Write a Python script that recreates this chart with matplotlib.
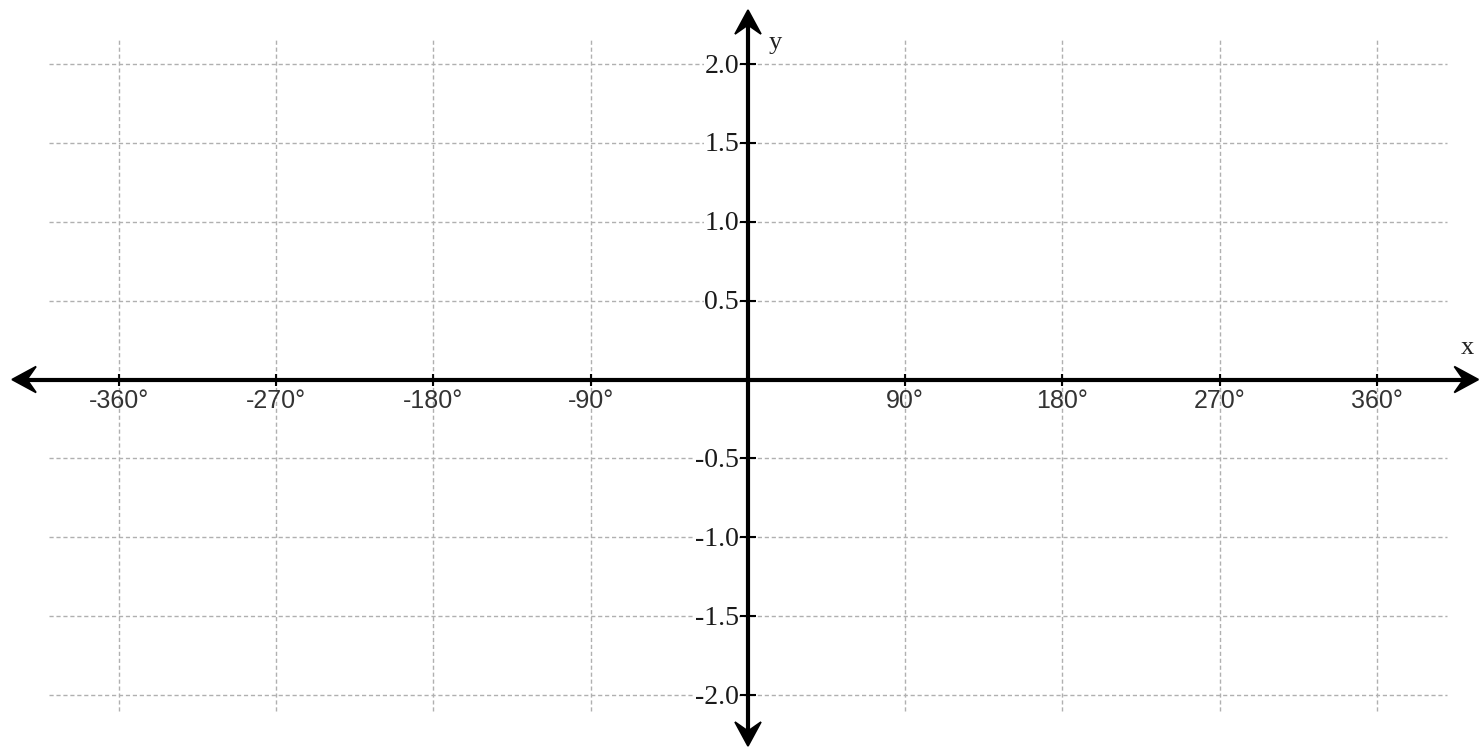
import matplotlib
matplotlib.use("Agg")
import matplotlib.pyplot as plt
from matplotlib.patches import Polygon
from matplotlib.transforms import IdentityTransform
import numpy as np

# Data (tick values and labels)
x_ticks = [-360, -270, -180, -90, 90, 180, 270, 360]
x_labels = ["-360°", "-270°", "-180°", "-90°", "90°", "180°", "270°", "360°"]
y_ticks = [2.0, 1.5, 1.0, 0.5, -0.5, -1.0, -1.5, -2.0]
y_labels = ["2.0", "1.5", "1.0", "0.5", "-0.5", "-1.0", "-1.5", "-2.0"]
grid_x = [-360, -270, -180, -90, 0, 90, 180, 270, 360]
grid_y = [2.0, 1.5, 1.0, 0.5, 0.0, -0.5, -1.0, -1.5, -2.0]

fig = plt.figure(figsize=(14.8, 7.49), dpi=100)
ax = fig.add_axes([0, 0, 1, 1])
ax.set_xlim(-428.1, 418.95)
ax.set_ylim(-2.342, 2.4057)
ax.axis("off")

# 1 px in data units
px_x = 90 / 157.25
px_y = 1 / 157.75

grid_kw = dict(color="#b0b0b0", linewidth=1.0, linestyles=(0, (3, 2)), zorder=1)
ax.vlines(grid_x, -2.1, 2.15, **grid_kw)
ax.hlines(grid_y, -400, 400, **grid_kw)

# Axis lines
x_end_l, x_end_r = -421.2, 418.0
y_end_b, y_end_t = -2.323, 2.342
ax.plot([x_end_l + 15 * px_x, x_end_r - 15 * px_x], [0, 0], color="black", lw=3, zorder=3,
        solid_capstyle="butt")
ax.plot([0, 0], [y_end_b + 15 * px_y, y_end_t - 15 * px_y], color="black", lw=3, zorder=3,
        solid_capstyle="butt")

# stealth arrowheads drawn in display space
fig.canvas.draw()
L, W, N = 24.0, 13.0, 0.62


def head(tip_data, direction):
    tx, ty = ax.transData.transform(tip_data)
    d = np.array(direction, dtype=float)
    p = np.array([-d[1], d[0]])
    tip = np.array([tx, ty])
    pts = [tip,
           tip - L * d + W * p,
           tip - N * L * d,
           tip - L * d - W * p]
    ax.add_patch(Polygon(pts, closed=True, transform=IdentityTransform(),
                         facecolor="black", edgecolor="black", lw=1.2, zorder=4,
                         joinstyle="miter"))


head((x_end_r, 0), (1, 0))
head((x_end_l, 0), (-1, 0))
head((0, y_end_t), (0, 1))
head((0, y_end_b), (0, -1))

# Tick marks
ax.vlines(x_ticks, -6 * px_y, 6 * px_y, color="black", linewidth=1.5, zorder=3)
ax.hlines(y_ticks, -8 * px_x, 8 * px_x, color="black", linewidth=1.5, zorder=3)

# Tick labels
for xv, lab in zip(x_ticks, x_labels):
    ax.text(xv, -9 * px_y, lab, ha="center", va="top", fontsize=18,
            family="Liberation Sans", color="#333333", zorder=4)
for yv, lab in zip(y_ticks, y_labels):
    ax.text(-9 * px_x, yv - 2 * px_y, lab, ha="right", va="center", fontsize=20,
            family="Liberation Serif", color="#1a1a1a", zorder=4,
            bbox=dict(facecolor="white", edgecolor="none", pad=0.3))

# Axis labels
ax.text((1467 - 748) * px_x, 32 * px_y, "x", ha="center", va="center", fontsize=19,
        family="Liberation Serif", color="#222222")
ax.text(27 * px_x, (379.5 - 43) * px_y, "y", ha="center", va="center", fontsize=19,
        family="Liberation Serif", color="#222222")

fig.savefig("out.png", dpi=100, facecolor="white")
